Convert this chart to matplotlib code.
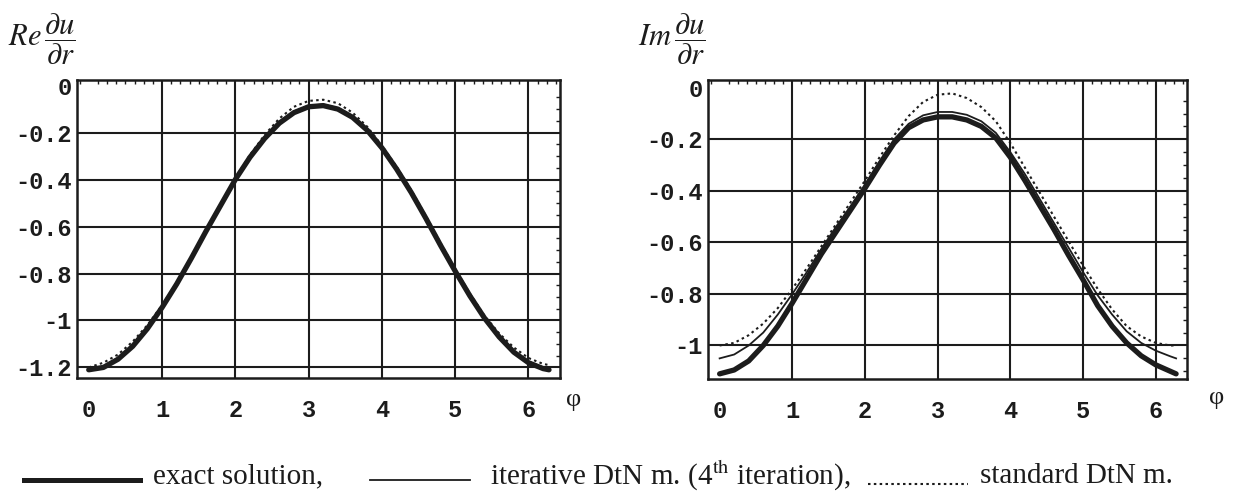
import matplotlib.pyplot as plt
from matplotlib.lines import Line2D

plt.rcParams['mathtext.fontset'] = 'stix'

# angle phi (values read every 0.2 rad from the scan)
phi = [0, 0.2, 0.4, 0.6, 0.8, 1.0, 1.2, 1.4, 1.6, 1.8, 2.0, 2.2, 2.4, 2.6, 2.8, 3.0,
       3.2, 3.4, 3.6, 3.8, 4.0, 4.2, 4.4, 4.6, 4.8, 5.0, 5.2, 5.4, 5.6, 5.8, 6.0, 6.2, 6.28]

# Re du/dr
re_exact = [-1.21, -1.20, -1.165, -1.11, -1.035, -0.945, -0.845, -0.735, -0.62, -0.51,
            -0.40, -0.305, -0.225, -0.16, -0.115, -0.09, -0.085, -0.10, -0.135, -0.19,
            -0.265, -0.355, -0.455, -0.565, -0.68, -0.79, -0.895, -0.99, -1.07, -1.135,
            -1.18, -1.205, -1.21]
re_iter = [-1.205, -1.195, -1.16, -1.105, -1.03, -0.94, -0.84, -0.73, -0.617, -0.507,
           -0.398, -0.302, -0.221, -0.155, -0.11, -0.085, -0.08, -0.095, -0.13, -0.186,
           -0.261, -0.351, -0.451, -0.561, -0.676, -0.786, -0.891, -0.985, -1.065, -1.13,
           -1.175, -1.2, -1.205]
re_std = [-1.20, -1.18, -1.145, -1.09, -1.02, -0.935, -0.84, -0.73, -0.615, -0.505,
          -0.395, -0.295, -0.21, -0.14, -0.09, -0.065, -0.06, -0.075, -0.115, -0.175,
          -0.255, -0.345, -0.445, -0.555, -0.67, -0.78, -0.885, -0.98, -1.055, -1.115,
          -1.16, -1.185, -1.19]

# Im du/dr
im_exact = [-1.11, -1.095, -1.06, -1.0, -0.925, -0.835, -0.74, -0.645, -0.56, -0.475,
            -0.39, -0.30, -0.215, -0.155, -0.125, -0.113, -0.113, -0.125, -0.15, -0.195,
            -0.27, -0.36, -0.455, -0.55, -0.65, -0.745, -0.845, -0.925, -0.99, -1.04,
            -1.075, -1.10, -1.11]
im_iter = [-1.05, -1.035, -1.0, -0.95, -0.88, -0.80, -0.715, -0.625, -0.54, -0.46,
           -0.375, -0.285, -0.20, -0.14, -0.107, -0.094, -0.094, -0.105, -0.13, -0.175,
           -0.25, -0.335, -0.43, -0.525, -0.62, -0.715, -0.805, -0.88, -0.945, -0.99,
           -1.02, -1.042, -1.05]
im_std = [-1.0, -0.99, -0.96, -0.915, -0.855, -0.78, -0.70, -0.615, -0.53, -0.445,
          -0.36, -0.27, -0.185, -0.11, -0.055, -0.027, -0.022, -0.04, -0.075, -0.13,
          -0.215, -0.31, -0.405, -0.50, -0.595, -0.69, -0.78, -0.86, -0.925, -0.965,
          -0.99, -1.0, -1.0]

xticks = [0, 1, 2, 3, 4, 5, 6]
re_yticks = [0, -0.2, -0.4, -0.6, -0.8, -1, -1.2]
re_ylabels = ['0', '-0.2', '-0.4', '-0.6', '-0.8', '-1', '-1.2']
im_yticks = [0, -0.2, -0.4, -0.6, -0.8, -1]
im_ylabels = ['0', '-0.2', '-0.4', '-0.6', '-0.8', '-1']

legend_labels = ['exact solution,',
                 r'iterative DtN m. (4$^{\mathrm{th}}$ iteration),',
                 'standard DtN m.']

ink = '#1c1c1c'
dots = (0, (1.2, 1.6))
W, H = 1235, 497
fig = plt.figure(figsize=(W / 100, H / 100), dpi=100)
fig.patch.set_facecolor('white')

ax1 = fig.add_axes([77 / W, 1 - 378 / H, 483 / W, 298 / H])
ax2 = fig.add_axes([708 / W, 1 - 379 / H, 479 / W, 299 / H])

tick_font = dict(family='Liberation Mono', size=17, weight='bold', color=ink)


def style(ax, yt, yl, ylim):
    ax.set_xlim(-0.16, 6.43)
    ax.set_ylim(*ylim)
    ax.set_xticks(xticks)
    ax.set_xticklabels([str(t) for t in xticks], fontdict=tick_font)
    ax.set_yticks(yt)
    ax.set_yticklabels(yl, fontdict=tick_font)
    ax.tick_params(axis='x', length=0, pad=15)
    ax.tick_params(axis='y', length=0, pad=4)
    ax.grid(True, color=ink, lw=1.5)
    # the zero ticks carry no grid line
    ax.get_xgridlines()[0].set_visible(False)
    ax.get_ygridlines()[0].set_visible(False)
    ax.xaxis.set_minor_locator(plt.MultipleLocator(0.125))
    ax.yaxis.set_minor_locator(plt.MultipleLocator(0.05))
    ax.tick_params(which='minor', direction='in', length=3, width=1,
                   color=ink, top=True, right=True, bottom=False, left=False)
    for s in ax.spines.values():
        s.set_color(ink)
        s.set_linewidth(1.8)
    ax.set_axisbelow(True)


for ax, ex, it, st in [(ax1, re_exact, re_iter, re_std), (ax2, im_exact, im_iter, im_std)]:
    ax.plot(phi, ex, color=ink, lw=3.8, solid_capstyle='round', solid_joinstyle='round')
    ax.plot(phi, it, color=ink, lw=1.3)
    ax.plot(phi, st, color=ink, lw=1.5, linestyle=dots)

style(ax1, re_yticks, re_ylabels, (-1.245, 0.024))
style(ax2, im_yticks, im_ylabels, (-1.13, 0.03))

# axis titles
fig.text(8 / W, 1 - 39 / H, r'$Re\,\dfrac{\partial u}{\partial r}$', fontsize=22,
         ha='left', va='center', color=ink)
fig.text(638 / W, 1 - 39 / H, r'$Im\,\dfrac{\partial u}{\partial r}$', fontsize=22,
         ha='left', va='center', color=ink)
fig.text(574 / W, 1 - 400 / H, 'φ', family='Liberation Serif', fontsize=19,
         ha='center', va='center', color=ink)
fig.text(1217 / W, 1 - 398 / H, 'φ', family='Liberation Serif', fontsize=19,
         ha='center', va='center', color=ink)

# legend row
ly = 1 - 480 / H
fig.add_artist(Line2D([24 / W, 140 / W], [ly, ly], color=ink, lw=3.6))
fig.add_artist(Line2D([370 / W, 470 / W], [ly, ly], color=ink, lw=1.3))
fig.add_artist(Line2D([868 / W, 968 / W], [ly - 0.008, ly - 0.008], color=ink, lw=1.5,
                      linestyle=dots))
for x0, lab in zip([153, 490, 980], legend_labels):
    fig.text(x0 / W, 1 - 476 / H, lab, family='Liberation Serif', fontsize=21,
             ha='left', va='center', color=ink)

fig.savefig('out.png', dpi=100, facecolor='white')
